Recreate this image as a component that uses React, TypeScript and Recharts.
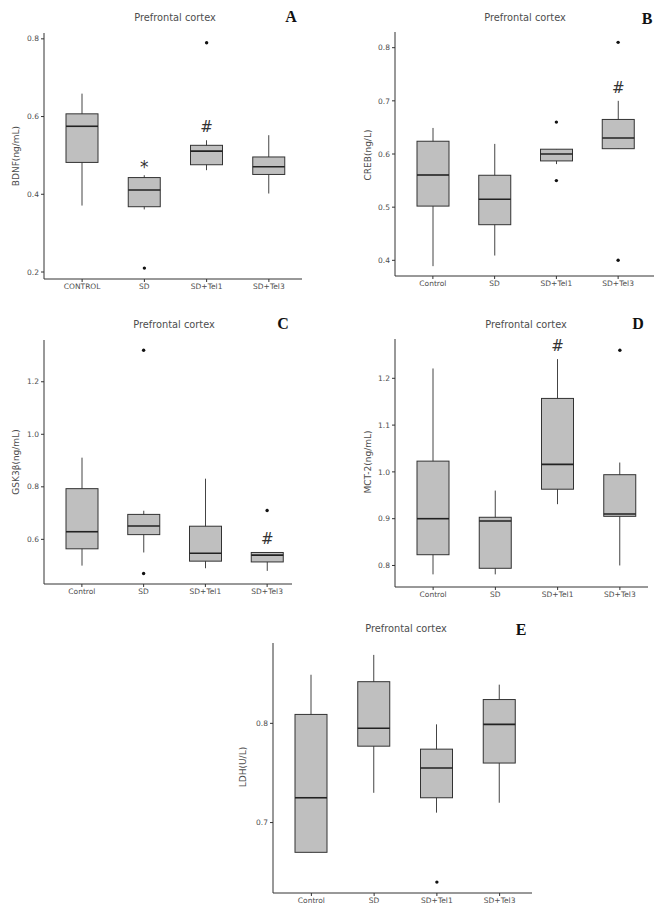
import { ComposedChart, Bar, Scatter, XAxis, YAxis } from 'recharts';

const groupsUpper = ['CONTROL', 'SD', 'SD+Tel1', 'SD+Tel3'];
const groups = ['Control', 'SD', 'SD+Tel1', 'SD+Tel3'];

// box summaries per group: [lower whisker, Q1, median, Q3, upper whisker]
const bdnfStats = [
  [0.371, 0.482, 0.575, 0.607, 0.659],
  [0.361, 0.368, 0.411, 0.443, 0.449],
  [0.462, 0.476, 0.511, 0.526, 0.539],
  [0.402, 0.451, 0.471, 0.496, 0.552],
];
const bdnfOutliers = [
  { name: 'SD', v: 0.21 },
  { name: 'SD+Tel1', v: 0.79 },
];
const bdnfMarks = ['', '*', '#', ''];

const crebStats = [
  [0.389, 0.502, 0.5605, 0.624, 0.649],
  [0.409, 0.467, 0.515, 0.56, 0.619],
  [0.581, 0.587, 0.6, 0.609, 0.609],
  [0.61, 0.61, 0.63, 0.665, 0.7],
];
const crebOutliers = [
  { name: 'SD+Tel1', v: 0.66 },
  { name: 'SD+Tel1', v: 0.55 },
  { name: 'SD+Tel3', v: 0.81 },
  { name: 'SD+Tel3', v: 0.4 },
];
const crebMarks = ['', '', '', '#'];

const gskStats = [
  [0.5, 0.564, 0.629, 0.793, 0.911],
  [0.55, 0.618, 0.651, 0.695, 0.709],
  [0.49, 0.517, 0.547, 0.65, 0.831],
  [0.48, 0.514, 0.54, 0.55, 0.55],
];
const gskOutliers = [
  { name: 'SD', v: 1.32 },
  { name: 'SD', v: 0.47 },
  { name: 'SD+Tel3', v: 0.71 },
];
const gskMarks = ['', '', '', '#'];

const mctStats = [
  [0.781, 0.823, 0.9, 1.023, 1.221],
  [0.781, 0.794, 0.895, 0.903, 0.96],
  [0.931, 0.963, 1.016, 1.157, 1.241],
  [0.8, 0.905, 0.91, 0.994, 1.02],
];
const mctOutliers = [{ name: 'SD+Tel3', v: 1.26 }];
const mctMarks = ['', '', '#', ''];

const ldhStats = [
  [0.67, 0.67, 0.725, 0.809, 0.849],
  [0.73, 0.777, 0.795, 0.842, 0.869],
  [0.71, 0.725, 0.755, 0.774, 0.799],
  [0.72, 0.76, 0.799, 0.824, 0.839],
];
const ldhOutliers = [{ name: 'SD+Tel1', v: 0.64 }];
const ldhMarks = ['', '', '', ''];

const FONT = '"DejaVu Sans", sans-serif';
const TEXT = '#4d4d4d';
const LINE = '#333';

const makeBoxes = (names: string[], stats: number[][], marks: string[]) =>
  names.map((name, i) => ({ name, stats: stats[i], mark: marks[i] }));

const whiskerRange = (d: any) => (d && d.stats ? [d.stats[0], d.stats[4]] : null);

// draws a whole box from the whisker-range bar the library already scaled
function BoxShape(props: any) {
  const { x, y, width, height, payload } = props;
  if (!payload || !payload.stats) return null;
  const [lo, q1, med, q3, hi] = payload.stats;
  const top = Math.min(y, y + height);
  const bot = Math.max(y, y + height);
  const span = hi - lo;
  const py = (v: number) => (span > 0 ? bot - ((v - lo) / span) * (bot - top) : bot);
  const cx = x + width / 2;
  const star = payload.mark === '*';
  return (
    <g>
      <line x1={cx} x2={cx} y1={top} y2={bot} stroke="#444" strokeWidth={1} />
      <rect
        x={x}
        y={py(q3)}
        width={width}
        height={Math.max(py(q1) - py(q3), 0.5)}
        fill="#bfbfbf"
        stroke={LINE}
        strokeWidth={1}
      />
      <line x1={x} x2={x + width} y1={py(med)} y2={py(med)} stroke="#222" strokeWidth={1.6} />
      {payload.mark ? (
        <text
          x={cx}
          y={star ? top - 8 : top - 13}
          textAnchor="middle"
          dominantBaseline="central"
          fontFamily={FONT}
          fontSize={star ? 17 : 15}
          fill="#333"
        >
          {payload.mark}
        </text>
      ) : null}
    </g>
  );
}

const OutlierDot = (props: any) =>
  props.cx == null ? null : <circle cx={props.cx} cy={props.cy} r={1.7} fill="#111" />;

interface PanelProps {
  left: number;
  top: number;
  plotTop: number;
  plotBottom: number;
  axisX: number;
  plotRight: number;
  padL: number;
  padR: number;
  domain: [number, number];
  ticks: number[];
  names: string[];
  stats: number[][];
  marks: string[];
  outliers: { name: string; v: number }[];
  yLabel: string;
  yLabelPos: [number, number];
  titlePos: [number, number];
  letter: string;
  letterPos: [number, number];
}

function Panel(p: PanelProps) {
  const W = 331;
  const H = p.plotBottom - p.top + 22;
  const data = makeBoxes(p.names, p.stats, p.marks);
  return (
    <>
      <div style={{ position: 'absolute', left: p.left, top: p.top }}>
        <ComposedChart
          width={W}
          height={H}
          data={data}
          margin={{ top: p.plotTop - p.top, right: p.left + W - p.plotRight, left: 0, bottom: 0 }}
        >
          <XAxis
            dataKey="name"
            type="category"
            allowDuplicatedCategory={false}
            height={22}
            padding={{ left: p.padL, right: p.padR }}
            axisLine={{ stroke: LINE, strokeWidth: 1 }}
            tickLine={{ stroke: LINE }}
            tickSize={3}
            tick={{ fontSize: 7.5, fill: TEXT, fontFamily: FONT }}
            interval={0}
          />
          <YAxis
            type="number"
            width={p.axisX - p.left}
            domain={p.domain}
            ticks={p.ticks}
            allowDataOverflow
            axisLine={{ stroke: LINE, strokeWidth: 1 }}
            tickLine={{ stroke: LINE }}
            tickSize={3}
            tickMargin={2}
            tickFormatter={(v: number) => v.toFixed(1)}
            tick={{ fontSize: 7.5, fill: TEXT, fontFamily: FONT }}
          />
          <Bar dataKey={whiskerRange} barSize={32} shape={<BoxShape />} isAnimationActive={false} />
          <Scatter data={p.outliers} dataKey="v" shape={<OutlierDot />} isAnimationActive={false} />
        </ComposedChart>
      </div>
      <div
        style={{
          position: 'absolute',
          left: p.titlePos[0] - 60,
          top: p.titlePos[1] - 7,
          width: 120,
          textAlign: 'center',
          fontFamily: FONT,
          fontSize: 9.8,
          lineHeight: '14px',
          color: TEXT,
        }}
      >
        Prefrontal cortex
      </div>
      <div
        style={{
          position: 'absolute',
          left: p.letterPos[0] - 15,
          top: p.letterPos[1] - 10,
          width: 30,
          textAlign: 'center',
          fontFamily: '"Liberation Serif", "DejaVu Serif", serif',
          fontWeight: 'bold',
          fontSize: 16,
          lineHeight: '20px',
          color: '#111',
        }}
      >
        {p.letter}
      </div>
      <div
        style={{
          position: 'absolute',
          left: p.yLabelPos[0] - 50,
          top: p.yLabelPos[1] - 7,
          width: 100,
          textAlign: 'center',
          fontFamily: FONT,
          fontSize: 9,
          lineHeight: '14px',
          color: TEXT,
          transform: 'rotate(-90deg)',
        }}
      >
        {p.yLabel}
      </div>
    </>
  );
}

export default function App() {
  return (
    <div
      style={{
        position: 'absolute',
        left: 0,
        top: 0,
        width: 662,
        height: 916,
        background: '#fff',
        overflow: 'hidden',
      }}
    >
      <Panel
        left={0}
        top={0}
        plotTop={33}
        plotBottom={279}
        axisX={44}
        plotRight={302}
        padL={7}
        padR={2}
        domain={[0.182, 0.815]}
        ticks={[0.2, 0.4, 0.6, 0.8]}
        names={groupsUpper}
        stats={bdnfStats}
        marks={bdnfMarks}
        outliers={bdnfOutliers}
        yLabel="BDNF(ng/mL)"
        yLabelPos={[16, 156]}
        titlePos={[175, 18]}
        letter="A"
        letterPos={[291, 17]}
      />
      <Panel
        left={331}
        top={0}
        plotTop={32}
        plotBottom={276}
        axisX={395}
        plotRight={654}
        padL={7}
        padR={5}
        domain={[0.3705, 0.8295]}
        ticks={[0.4, 0.5, 0.6, 0.7, 0.8]}
        names={groups}
        stats={crebStats}
        marks={crebMarks}
        outliers={crebOutliers}
        yLabel="CREB(ng/L)"
        yLabelPos={[368, 155]}
        titlePos={[525, 18]}
        letter="B"
        letterPos={[647, 19]}
      />
      <Panel
        left={0}
        top={305}
        plotTop={340}
        plotBottom={584}
        axisX={44}
        plotRight={292}
        padL={7}
        padR={-6}
        domain={[0.43, 1.359]}
        ticks={[0.6, 0.8, 1.0, 1.2]}
        names={groups}
        stats={gskStats}
        marks={gskMarks}
        outliers={gskOutliers}
        yLabel="GSK3β(ng/mL)"
        yLabelPos={[16, 462]}
        titlePos={[174, 325]}
        letter="C"
        letterPos={[283, 324]}
      />
      <Panel
        left={331}
        top={305}
        plotTop={339}
        plotBottom={587}
        axisX={395}
        plotRight={648}
        padL={7}
        padR={-3}
        domain={[0.754, 1.284]}
        ticks={[0.8, 0.9, 1.0, 1.1, 1.2]}
        names={groups}
        stats={mctStats}
        marks={mctMarks}
        outliers={mctOutliers}
        yLabel="MCT-2(ng/mL)"
        yLabelPos={[368, 462]}
        titlePos={[526, 325]}
        letter="D"
        letterPos={[638, 324]}
      />
      <Panel
        left={220}
        top={610}
        plotTop={643}
        plotBottom={893}
        axisX={273}
        plotRight={532}
        padL={7}
        padR={1}
        domain={[0.629, 0.881]}
        ticks={[0.7, 0.8]}
        names={groups}
        stats={ldhStats}
        marks={ldhMarks}
        outliers={ldhOutliers}
        yLabel="LDH(U/L)"
        yLabelPos={[243, 767]}
        titlePos={[406, 629]}
        letter="E"
        letterPos={[521, 630]}
      />
    </div>
  );
}
